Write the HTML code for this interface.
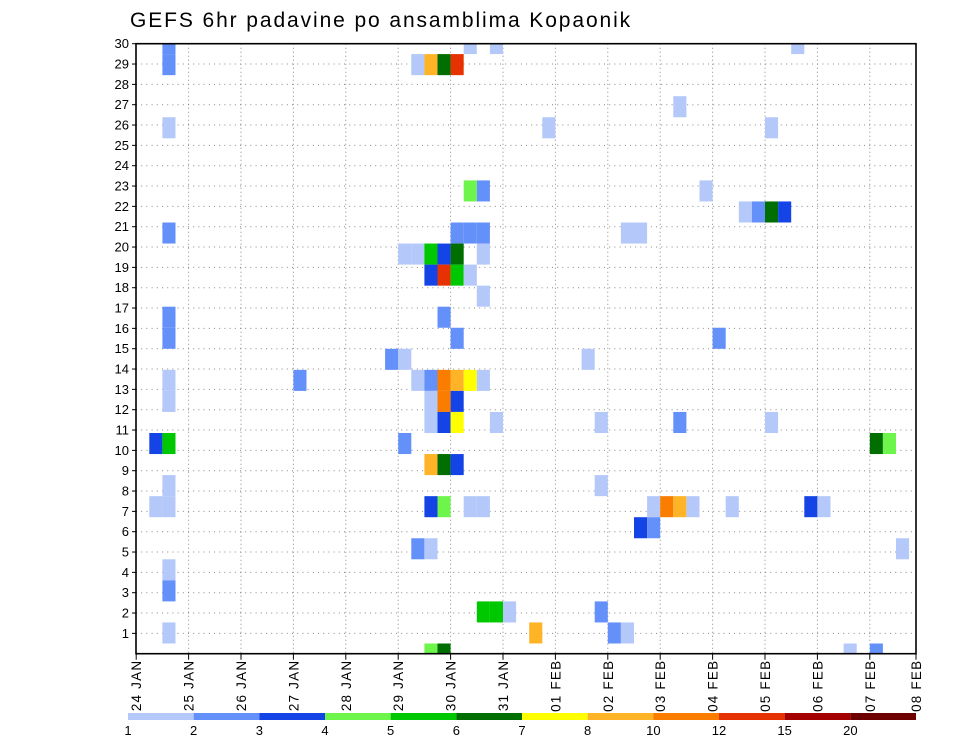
<!DOCTYPE html>
<html><head><meta charset="utf-8"><style>
html,body{margin:0;padding:0;background:#fff;}
svg{display:block;font-family:"Liberation Sans",sans-serif;}
</style></head><body>
<svg id="chart" width="960" height="742" viewBox="0 0 960 742">
<text x="130" y="27" font-size="21" fill="#000" letter-spacing="1.9">GEFS 6hr padavine po ansamblima Kopaonik</text>
<g id="grid"></g>
<g id="cells"></g>
<rect x="136" y="43.7" width="780" height="610" fill="none" stroke="#000" stroke-width="1.6"/>
<g id="yaxis"></g>
<g id="xaxis"></g>
<g id="cbar"></g>
</svg>
<script>
// data
const stepIdx = [2,25,27,50, 2,21,22,23,24, 41, 2,31,48, 25,26,43, 46,47,48,49, 2,24,25,26,37,38,
 20,21,22,23,24,26, 22,23,24,25, 26, 2,23, 2,24,44, 19,20,34,
 2,12,21,22,23,24,25,26, 2,22,23,24, 22,23,24,27,35,41,48, 1,2,20,56,57, 22,23,24, 2,35,
 1,2,22,23,25,26,39,40,41,42,45,51,52, 38,39, 21,22,58, 2, 2, 26,27,28,35, 2,30,36,37, 22,23,54,56];
const memberIdx = [29,29,29,29, 28,28,28,28,28, 26, 25,25,25, 22,22,22, 21,21,21,21, 20,20,20,20,20,20,
 19,19,19,19,19,19, 18,18,18,18, 17, 16,16, 15,15,15, 14,14,14,
 13,13,13,13,13,13,13,13, 12,12,12,12, 11,11,11,11,11,11,11, 10,10,10,10,10, 9,9,9, 8,8,
 7,7,7,7,7,7,7,7,7,7,7,7,7, 6,6, 5,5,5, 4, 3, 2,2,2,2, 1,1,1,1, 0,0,0,0];
const precipMM = [2.5,1.5,1.5,1.5, 2.5,1.5,9,6.5,13.5, 1.5, 1.5,1.5,1.5, 4.5,2.5,1.5, 1.5,2.5,6.5,3.5, 2.5,2.5,2.5,2.5,1.5,1.5,
 1.5,1.5,5.5,3.5,6.5,1.5, 3.5,13.5,5.5,1.5, 1.5, 2.5,2.5, 2.5,2.5,2.5, 2.5,1.5,1.5,
 1.5,2.5,1.5,2.5,11,9,7.5,1.5, 1.5,1.5,11,3.5, 1.5,3.5,7.5,1.5,1.5,2.5,1.5, 3.5,5.5,2.5,6.5,4.5, 9,6.5,3.5, 1.5,1.5,
 1.5,1.5,3.5,4.5,1.5,1.5,1.5,11,9,1.5,1.5,3.5,1.5, 3.5,2.5, 2.5,1.5,1.5, 1.5, 2.5, 5.5,5.5,1.5,2.5, 1.5,9,2.5,1.5, 4.5,6.5,1.5,2.5];
const levels = [1,2,3,4,5,6,7,8,10,12,15,20];
const levelColors = ["#b4c8fa","#6490fa","#1444e6","#6ef54c","#00c800","#006e00","#ffff00","#ffb428","#fa7d00","#e63200","#a50000","#6e0000"];
const dayLabels = ["24 JAN","25 JAN","26 JAN","27 JAN","28 JAN","29 JAN","30 JAN","31 JAN","01 FEB","02 FEB","03 FEB","04 FEB","05 FEB","06 FEB","07 FEB","08 FEB"];
const memberTicks = [1,2,3,4,5,6,7,8,9,10,11,12,13,14,15,16,17,18,19,20,21,22,23,24,25,26,27,28,29,30];
const levelLabels = ["1","2","3","4","5","6","7","8","10","12","15","20"];

const NS="http://www.w3.org/2000/svg";
const X0=136.2, DX=13.1, TOP=43.7, BOT=653.7, LEFT=136, RIGHT=916;
function xStep(k){return X0+DX*k;}
function yCellTop(j){return 643.5-21.05*j;}
function yMember(m){return BOT-(BOT-TOP)/30*m;}
function colorFor(v){let c=null;for(let i=0;i<levels.length;i++){if(v>=levels[i])c=levelColors[i];}return c;}
function mk(tag,attrs,parent){const e=document.createElementNS(NS,tag);for(const a in attrs)e.setAttribute(a,attrs[a]);parent.appendChild(e);return e;}

const grid=document.getElementById('grid');
memberTicks.forEach(m=>{
  const l=mk('line',{x1:LEFT,x2:RIGHT,y1:yMember(m),y2:yMember(m),stroke:"#888","stroke-width":1,"stroke-dasharray":"1,4.2"},grid);
  
  
});
for(let d=1;d<dayLabels.length-1;d++){
  const x=xStep(4*d);
  const l=mk('line',{x1:x,x2:x,y1:TOP,y2:BOT,stroke:"#888","stroke-width":1,"stroke-dasharray":"1,3"},grid);
  
  
}

const cells=document.getElementById('cells');
for(let i=0;i<stepIdx.length;i++){
  const c=colorFor(precipMM[i]); if(!c)continue;
  let t=yCellTop(memberIdx[i]), b=t+21.05;
  t=Math.max(t,TOP); b=Math.min(b,BOT);
  const r=mk('rect',{x:xStep(stepIdx[i]),y:t,width:DX,height:b-t,fill:c},cells);
  
  
}

const ya=document.getElementById('yaxis');
memberTicks.forEach(m=>{
  const y=yMember(m);
  const tk=mk('line',{x1:LEFT-4,x2:LEFT,y1:y,y2:y,stroke:"#000","stroke-width":1},ya);
  
  
  const t=mk('text',{x:LEFT-7,y:y+4.5,"font-size":13,"text-anchor":"end",fill:"#000"},ya);
  t.textContent=m;
  
  
});

const xa=document.getElementById('xaxis');
dayLabels.forEach((lab,d)=>{
  const x = d===dayLabels.length-1 ? RIGHT : xStep(4*d);
  const tk=mk('line',{x1:x,x2:x,y1:BOT,y2:BOT+6,stroke:"#000","stroke-width":1},xa);
  
  
  const t=mk('text',{x:0,y:0,"font-size":13.5,"letter-spacing":"1.2","text-anchor":"end",fill:"#000",transform:`translate(${x+5},${BOT+6}) rotate(-90)`},xa);
  t.textContent=lab;
  
  
});

const cb=document.getElementById('cbar');
const CB0=128, CBW=(916-128)/levelColors.length;
levelColors.forEach((c,i)=>{
  const r=mk('rect',{x:CB0+CBW*i,y:713,width:CBW,height:7,fill:c},cb);
  
  
});
levelLabels.forEach((lab,i)=>{
  const t=mk('text',{x:CB0+CBW*i,y:735,"font-size":13,"text-anchor":"middle",fill:"#000"},cb);
  t.textContent=lab;
  
  
});
</script>
</body></html>
